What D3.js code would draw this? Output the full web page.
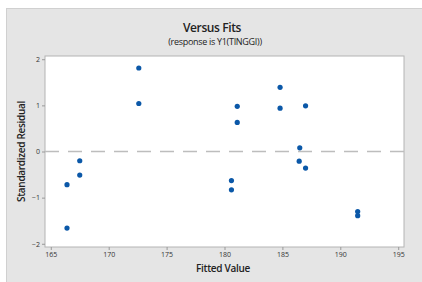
<!DOCTYPE html>
<html>
<head>
<meta charset="utf-8">
<script src="https://cdn.jsdelivr.net/npm/d3@7"></script>
<style>
  body { margin: 0; background: #fff; }
  text { font-family: "Open Sans", "Noto Sans", sans-serif; }
</style>
</head>
<body>
<svg id="chart" width="422" height="282"></svg>
<script>
// Fitted values and standardized residuals
let fits = [172.6, 172.6, 167.5, 167.5, 166.4, 166.4, 181.1, 181.1, 180.6, 180.6,
            184.8, 184.8, 187.0, 186.5, 186.45, 187.0, 191.5, 191.5];
let resids = [1.81, 1.04, -0.2, -0.51, -0.72, -1.66, 0.98, 0.63, -0.63, -0.83,
              1.39, 0.94, 0.99, 0.08, -0.21, -0.36, -1.3, -1.39];
let xTicks = [165, 170, 175, 180, 185, 190, 195];
let yTicks = [-2, -1, 0, 1, 2];

// Plot area in pixels
let margin = { top: 56, left: 45, right: 18, bottom: 35 };
let width = 422 - margin.left - margin.right,
    height = 282 - margin.top - margin.bottom;

let svg = d3.select("#chart");

// Grey panel behind everything
svg.append("rect")
  .attr("x", 6.5).attr("y", 8.5)
  .attr("width", 420).attr("height", 280)
  .attr("fill", "#e5e5e5")
  .attr("stroke", "#d0d0d0");

let x = d3.scaleLinear().domain([164.5, 195.5]).range([0, width]);
let y = d3.scaleLinear().domain([-2.07, 2.07]).range([height, 0]);

let g = svg.append("g")
  .attr("transform", "translate(" + margin.left + "," + margin.top + ")");

// White plot area
g.append("rect")
  .attr("width", width).attr("height", height)
  .attr("fill", "#fff")
  .attr("stroke", "#b4b4b4");

// Axes
let xAxis = g.append("g")
  .attr("transform", "translate(0," + height + ")")
  .call(d3.axisBottom(x).tickValues(xTicks).tickSize(3).tickPadding(2));
let yAxis = g.append("g")
  .call(d3.axisLeft(y).tickValues(yTicks).tickFormat(d3.format("d")).tickSize(3).tickPadding(2));
[xAxis, yAxis].forEach(function(a) {
  a.select(".domain").remove();
  a.selectAll("line").attr("stroke", "#999");
  a.selectAll("text").attr("fill", "#333").style("font-size", "7px");
});

// Reference line at zero
g.append("line")
  .attr("x1", 0).attr("x2", width)
  .attr("y1", y(0)).attr("y2", y(0))
  .attr("stroke", "#bdbdbd")
  .attr("stroke-width", 1.3)
  .attr("stroke-dasharray", "14,9");

// Points
g.selectAll(".pt")
  .data(fits)
  .enter()
  .append("circle")
  .attr("class", "pt")
  .attr("cx", function(d) { return x(d); })
  .attr("cy", function(d, i) { return y(resids[i]); })
  .attr("r", 2.6)
  .attr("fill", "#0b58a8");

// Titles
svg.append("text")
  .attr("x", 212).attr("y", 32)
  .attr("text-anchor", "middle")
  .style("font-size", "12px")
  .style("font-weight", "600")
  .attr("fill", "#222")
  .attr("letter-spacing", "-0.4")
  .text("Versus Fits");
svg.append("text")
  .attr("x", 215).attr("y", 45)
  .attr("text-anchor", "middle")
  .style("font-size", "9px")
  .attr("fill", "#222")
  .attr("letter-spacing", "-0.3")
  .text("(response is Y1(TINGGI))");

// Axis labels
svg.append("text")
  .attr("x", 223).attr("y", 272)
  .attr("text-anchor", "middle")
  .style("font-size", "10px")
  .style("font-weight", "600")
  .attr("fill", "#222")
  .attr("letter-spacing", "-0.3")
  .text("Fitted Value");
svg.append("text")
  .attr("transform", "translate(25," + (margin.top + height / 2) + ") rotate(-90)")
  .attr("text-anchor", "middle")
  .style("font-size", "10px")
  .style("font-weight", "600")
  .attr("fill", "#222")
  .attr("letter-spacing", "-0.3")
  .text("Standardized Residual");
</script>
</body>
</html>
